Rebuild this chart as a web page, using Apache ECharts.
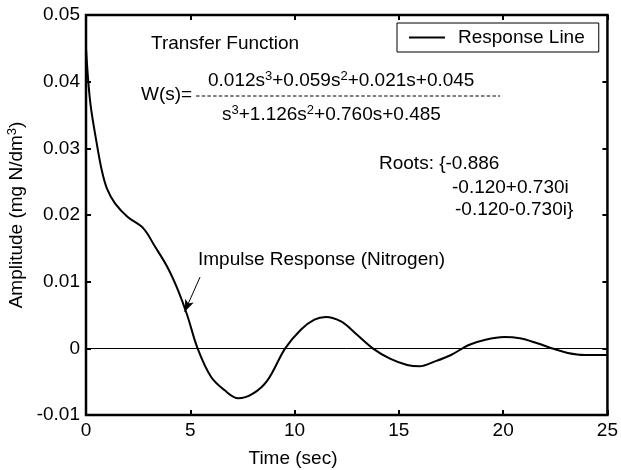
<!DOCTYPE html>
<html>
<head>
<meta charset="utf-8">
<script src="https://cdn.jsdelivr.net/npm/echarts@6/dist/echarts.min.js"></script>
<style>
  html, body { margin: 0; padding: 0; background: #fff; }
  #chart { width: 621px; height: 470px; }
</style>
</head>
<body>
<div id="chart"></div>
<script>
// values
const timeSec = [0, 0.2, 0.5, 0.75, 1.0, 1.4, 2.0, 2.75, 3.3, 3.9, 4.4, 4.85, 5.35, 6.0, 6.65, 7.3, 8.0, 8.7, 9.55, 10.3, 10.95, 11.5, 12.25, 12.9, 13.75, 14.55, 15.4, 16.0, 16.7, 17.5, 18.35, 19.15, 20.05, 20.8, 21.6, 22.45, 23.1, 23.9, 25]
const amplitude = [0.045, 0.037, 0.031, 0.0268, 0.024, 0.0217, 0.0197, 0.018, 0.0153, 0.0122, 0.0088, 0.005, 0.0, -0.0043, -0.0063, -0.0075, -0.0068, -0.0048, 0.0, 0.0028, 0.0043, 0.0047, 0.004, 0.0023, 0.0, -0.0015, -0.0025, -0.0027, -0.002, -0.001, 0.0005, 0.0013, 0.0017, 0.0015, 0.0008, -0.0001, -0.0007, -0.001, -0.001]
const xTicks = { min: 0, max: 25, interval: 5 }
const yTicks = { min: -0.01, max: 0.05, interval: 0.01 }
const seriesName = 'Response Line'
const arrowFrom = [5.47, 0.0107]
const arrowTo = [4.73, 0.0055]

const font = 'Arial, "Liberation Sans", Helvetica, sans-serif'
const fs = 19

const chart = echarts.init(document.getElementById('chart'))

function fmtY (v) {
  return String(Math.round(v * 100) / 100)
}

const tickStyle = { show: true, inside: true, length: 5, lineStyle: { color: '#000', width: 2 } }

// superscripts as small raised text
const rich = {
  n: { fontSize: fs, fontFamily: font, color: '#000' },
  s: { fontSize: 13, fontFamily: font, color: '#000', padding: [0, 0, 9, 0] }
}

function txt (text, left, top) {
  return { type: 'text', left: left, top: top, style: { text: text, fontSize: fs, fontFamily: font, fill: '#000', rich: rich } }
}

const option = {
  backgroundColor: '#fff',
  animation: false,
  grid: {
    left: 86,
    right: 9,
    top: 15,
    bottom: 55,
    show: true,
    borderColor: '#000',
    borderWidth: 2.5,
    backgroundColor: '#fff'
  },
  legend: {
    left: 397,
    top: 23,
    data: [seriesName],
    icon: 'rect',
    itemWidth: 36,
    itemHeight: 2,
    padding: [5, 14, 5, 12],
    borderColor: '#000',
    borderWidth: 1,
    backgroundColor: '#fff',
    textStyle: { color: '#000', fontSize: fs, fontFamily: font, padding: [0, 0, 0, 8] }
  },
  xAxis: [{
    type: 'value',
    position: 'bottom',
    min: xTicks.min,
    max: xTicks.max,
    interval: xTicks.interval,
    axisLine: { show: false, onZero: false },
    axisTick: tickStyle,
    splitLine: { show: false },
    axisLabel: { color: '#000', fontSize: fs, fontFamily: font, margin: 6 }
  }, {
    type: 'value',
    position: 'top',
    min: xTicks.min,
    max: xTicks.max,
    interval: xTicks.interval,
    axisLine: { show: false, onZero: false },
    axisTick: tickStyle,
    splitLine: { show: false },
    axisLabel: { show: false }
  }],
  yAxis: [{
    type: 'value',
    position: 'left',
    min: yTicks.min,
    max: yTicks.max,
    interval: yTicks.interval,
    axisLine: { show: false, onZero: false },
    axisTick: tickStyle,
    splitLine: { show: false },
    axisLabel: { color: '#000', fontSize: fs, fontFamily: font, margin: 6, formatter: fmtY }
  }, {
    type: 'value',
    position: 'right',
    min: yTicks.min,
    max: yTicks.max,
    interval: yTicks.interval,
    axisLine: { show: false, onZero: false },
    axisTick: tickStyle,
    splitLine: { show: false },
    axisLabel: { show: false }
  }],
  series: [{
    name: seriesName,
    type: 'line',
    data: timeSec.map((t, i) => [t, amplitude[i]]),
    smooth: 0.35,
    symbol: 'none',
    lineStyle: { color: '#000', width: 2 },
    itemStyle: { color: '#000' },
    z: 3,
    markLine: {
      silent: true,
      animation: false,
      label: { show: false },
      data: [
        [{ coord: [xTicks.min, 0], symbol: 'none' }, { coord: [xTicks.max, 0], symbol: 'none' }],
        [{ coord: arrowFrom, symbol: 'none' }, { coord: arrowTo, symbol: 'arrow', symbolSize: [7, 12] }]
      ],
      lineStyle: { color: '#000', width: 1, type: 'solid' },
      itemStyle: { color: '#000' }
    }
  }],
  graphic: [
    txt('Transfer Function', 151, 34),
    txt('W(s)=', 141, 85),
    txt('{n|0.012s}{s|3}{n|+0.059s}{s|2}{n|+0.021s+0.045}', 208, 70),
    { type: 'line', shape: { x1: 196, y1: 96, x2: 500, y2: 96 }, style: { stroke: '#000', lineWidth: 1, lineDash: [3.5, 2.2] } },
    txt('{n|s}{s|3}{n|+1.126s}{s|2}{n|+0.760s+0.485}', 222, 104),
    txt('Roots: {-0.886', 379, 154),
    txt('-0.120+0.730i', 452, 178),
    txt('-0.120-0.730i}', 455, 200),
    txt('Impulse Response (Nitrogen)', 198, 250),
    { type: 'text', x: 293, y: 459, style: { text: 'Time (sec)', fontSize: fs, fontFamily: font, fill: '#000', align: 'center', verticalAlign: 'middle' } },
    { type: 'text', x: 17, y: 215, rotation: Math.PI / 2, style: { text: '{n|Amplitude (mg N/dm}{s|3}{n|)}', fontSize: fs, fontFamily: font, fill: '#000', align: 'center', verticalAlign: 'middle', rich: rich } }
  ]
}

chart.setOption(option)
</script>
</body>
</html>
